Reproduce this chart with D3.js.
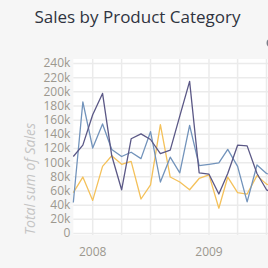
<!DOCTYPE html>
<html>
<head>
<meta charset="utf-8">
<script src="https://cdn.jsdelivr.net/npm/d3@7"></script>
<style>
  body { margin: 0; background: #f6f6f6; overflow: hidden; }
  svg { display: block; font-family: "Open Sans", sans-serif; }
</style>
</head>
<body>
<script>
// monthly totals, Nov 2007 - Aug 2009
const months = ["2007-11", "2007-12", "2008-01", "2008-02", "2008-03", "2008-04", "2008-05", "2008-06",
  "2008-07", "2008-08", "2008-09", "2008-10", "2008-11", "2008-12", "2009-01", "2009-02",
  "2009-03", "2009-04", "2009-05", "2009-06", "2009-07", "2009-08"];
const technology = [108, 124, 167, 197, 109, 61, 133, 140, 132, 112, 117, 165, 214, 85, 83, 55, 84, 124, 123, 84, 61, 55];
const furniture = [43, 185, 120, 154, 118, 108, 114, 105, 143, 72, 107, 85, 152, 95, 97, 99, 118, 94, 44, 96, 84, 80];
const officeSupplies = [57, 79, 46, 94, 109, 97, 101, 48, 68, 153, 79, 72, 61, 77, 82, 35, 79, 57, 55, 81, 69, 65];
const yTicks = [0, 20, 40, 60, 80, 100, 120, 140, 160, 180, 200, 220, 240];
const xLabels = ["2008", "2009"];

let width = 268;
let height = 268;

const parse = d3.timeParse("%Y-%m");
const dates = months.map(parse);

const series = [
  { name: "Office Supplies", values: officeSupplies, color: "#f4c15a" },
  { name: "Furniture", values: furniture, color: "#7293bb" },
  { name: "Technology", values: technology, color: "#5b5886" }
];

const x = d3.scaleTime()
    .domain([new Date(2008, 0, 1), new Date(2009, 0, 1)])
    .range([92.7, 209]);

const y = d3.scaleLinear()
    .domain([0, 240])
    .range([233, 63]);

const svg = d3.select("body").append("svg")
    .attr("width", width)
    .attr("height", height)
    .attr("viewBox", [0, 0, width, height]);

// title
svg.append("text")
    .attr("x", 137.5)
    .attr("y", 23)
    .attr("text-anchor", "middle")
    .attr("fill", "#2f3340")
    .style("font-size", "17px")
    .text("Sales by Product Category");

// legend marker peeking in at the edge
svg.append("circle")
    .attr("cx", 270.5)
    .attr("cy", 43)
    .attr("r", 4)
    .attr("fill", "#7a7d88");

// plot background
svg.append("rect")
    .attr("x", x(dates[0]))
    .attr("y", 59)
    .attr("width", width)
    .attr("height", 176)
    .attr("fill", "white");

// horizontal grid + y labels
svg.append("g")
    .attr("transform", `translate(${x(dates[0])},0)`)
    .call(d3.axisLeft(y).tickValues(yTicks).tickSize(0).tickPadding(3)
        .tickFormat(d => d === 0 ? "0" : d + "k"))
    .call(g => g.select(".domain").remove())
    .call(g => g.selectAll(".tick line").clone()
        .attr("x2", width)
        .attr("stroke", "#ebebeb")
        .attr("stroke-width", 1.5))
    .call(g => g.selectAll("text")
        .attr("fill", "#9c988f")
        .style("font-size", "12px")
        .style("font-family", "Open Sans"));

// vertical grid, quarterly
const quarters = d3.timeMonth.every(3).range(new Date(2008, 0, 1), new Date(2009, 9, 1));
svg.append("g")
    .selectAll("line")
    .data(quarters)
    .join("line")
    .attr("x1", d => x(d))
    .attr("x2", d => x(d))
    .attr("y1", 59)
    .attr("y2", 235)
    .attr("stroke", "#ebebeb")
    .attr("stroke-width", 1.5);

// year labels
svg.append("g")
    .selectAll("text")
    .data(xLabels)
    .join("text")
    .attr("x", d => x(new Date(+d, 0, 1)))
    .attr("y", 256)
    .attr("text-anchor", "middle")
    .attr("fill", "#9c988f")
    .style("font-size", "12px")
    .text(d => d);

// y-axis title
svg.append("text")
    .attr("transform", "translate(35,179) rotate(-90)")
    .attr("text-anchor", "middle")
    .attr("fill", "#c4c4c4")
    .style("font-size", "14px")
    .style("font-style", "italic")
    .text("Total sum of Sales");

// the lines
const line = d3.line()
    .x((d, i) => x(dates[i]))
    .y(d => y(d));

svg.append("g")
    .selectAll("path")
    .data(series)
    .join("path")
    .attr("fill", "none")
    .attr("stroke", d => d.color)
    .attr("stroke-width", 1.3)
    .attr("stroke-linejoin", "round")
    .attr("d", d => line(d.values));
</script>
</body>
</html>
